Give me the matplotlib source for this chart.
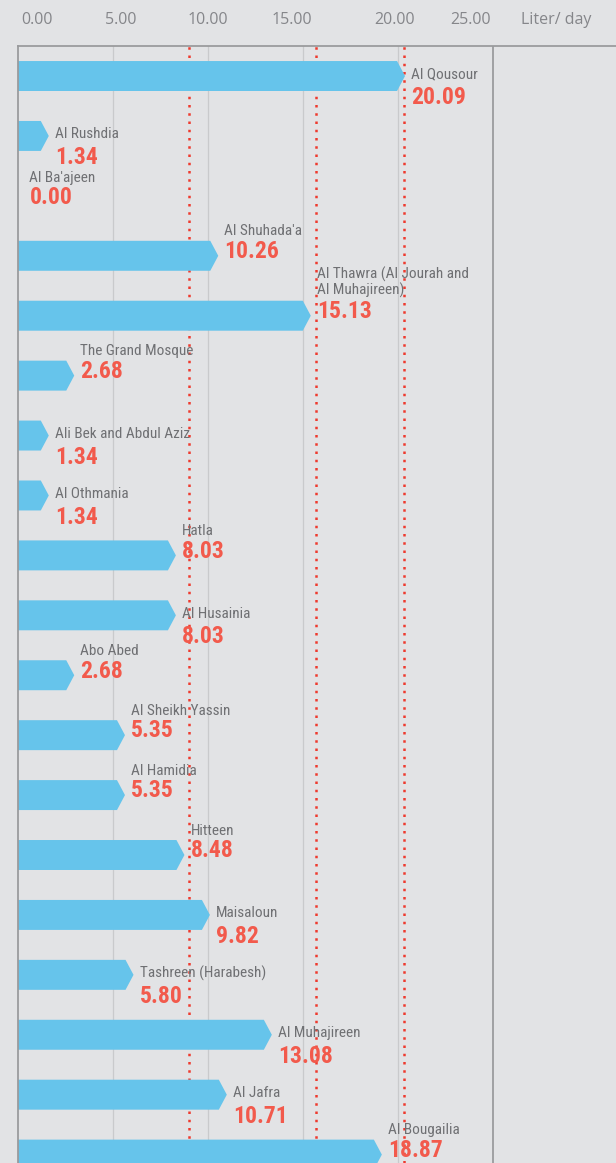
import matplotlib.pyplot as plt
import matplotlib.font_manager as fm
from matplotlib.patches import Polygon

# data
names = ["Al Qousour", "Al Rushdia", "Al Ba'ajeen", "Al Shuhada'a",
         "Al Thawra (Al Jourah and\nAl Muhajireen)", "The Grand Mosque",
         "Ali Bek and Abdul Aziz", "Al Othmania", "Hatla", "Al Husainia",
         "Abo Abed", "Al Sheikh Yassin", "Al Hamidia", "Hitteen", "Maisaloun",
         "Tashreen (Harabesh)", "Al Muhajireen", "Al Jafra", "Al Bougailia"]
values = [20.09, 1.34, 0.00, 10.26, 15.13, 2.68, 1.34, 1.34, 8.03, 8.03,
          2.68, 5.35, 5.35, 8.48, 9.82, 5.80, 13.08, 10.71, 18.87]
ref_lines = [9.0, 15.7, 20.3]
xticks = [0, 5, 10, 15, 20, 25]
xtick_labels = ["0.00", "5.00", "10.00", "15.00", "20.00", "25.00"]
unit = "Liter/ day"

# layout: name above the value (True) or beside the bar (False)
name_above = [False, False, True, True, True, True, False, False, True, False,
              True, True, True, True, False, False, False, False, True]
# tick labels in the original sit a bit off their grid lines
label_pos = [1.0, 5.4, 10.0, 14.4, 19.8, 23.8]
unit_pos = 28.3

bg = "#e2e3e5"
bar_color = "#66c4eb"
red = "#f25a4c"
grey_txt = "#6f7073"

# look for a narrow font, the original uses a condensed face
avail = {f.name for f in fm.fontManager.ttflist}
stretched = {f.name for f in fm.fontManager.ttflist
             if f.stretch in ("condensed", "semi-condensed", 62.5, 75, 87.5)}
narrow = None
stretch = "normal"
for cand in ["Roboto Condensed", "Noto Sans Condensed", "Open Sans Condensed",
             "Liberation Sans Narrow", "Noto Sans SemiCondensed",
             "Open Sans SemiCondensed", "DejaVu Sans Condensed"]:
    if cand in avail:
        narrow = cand
        break
if narrow is None:
    for cand in ["Noto Sans", "DejaVu Sans", "Open Sans", "Roboto"]:
        if cand in stretched:
            narrow, stretch = cand, "condensed"
            break
if narrow is None:
    narrow = "Roboto"
name_font = [narrow, "DejaVu Sans"]

fig = plt.figure(figsize=(6.16, 11.63), dpi=100, facecolor=bg)
ax = fig.add_axes([18 / 616, 0, 1 - 18 / 616, 1 - 45.7 / 1163])
ax.set_facecolor(bg)

xmax = (616 - 18) / 19.0
ax.set_xlim(0, xmax)
ax.set_ylim(18.14, -0.506)

# grid and frame
for g in xticks[1:-1]:
    ax.axvline(g, color="#c9cacc", lw=0.9, zorder=0)
ax.axvline(xticks[-1], color="#9a9b9d", lw=1.3, zorder=0)
for r in ref_lines:
    ax.axvline(r, color="#ee3a2e", lw=1.8, linestyle=(0, (1, 2.3)), zorder=1)

for s in ["right", "bottom"]:
    ax.spines[s].set_visible(False)
for s in ["left", "top"]:
    ax.spines[s].set_color("#9a9b9d")
    ax.spines[s].set_linewidth(1.3)

ax.xaxis.tick_top()
ax.set_xticks(label_pos + [unit_pos])
ax.set_xticklabels(xtick_labels + [unit], family=["Open Sans", "DejaVu Sans"])
ax.tick_params(axis="x", length=0, pad=13, labelsize=11.5, labelcolor="#85868a")
ax.set_yticks([])

h = 0.5
tip = 0.42
for i, (n, v) in enumerate(zip(names, values)):
    if v > 0:
        end = max(v - 0.14, 0.05)
        pts = [(0, i - h / 2), (end, i - h / 2), (end + tip, i),
               (end, i + h / 2), (0, i + h / 2)]
        ax.add_patch(Polygon(pts, closed=True, fc=bar_color, ec="none", zorder=2))
        vy, ny = i - 0.07, i - 0.29
    else:
        # no bar: keep the pair tight so it clears the row above
        vy, ny = i + 0.02, i - 0.18
    tx = v + 0.6
    if name_above[i]:
        ax.text(tx, vy, f"{v:.2f}", ha="left", va="center", fontsize=17,
                fontweight="bold", color=red, family=name_font,
                fontstretch=stretch, zorder=3)
        ax.text(tx, ny, n, ha="left", va="bottom", fontsize=11,
                color=grey_txt, family=name_font, fontstretch=stretch,
                zorder=3, linespacing=1.1)
    else:
        ax.text(tx, i - 0.03, n, ha="left", va="center", fontsize=11,
                color=grey_txt, family=name_font, fontstretch=stretch, zorder=3)
        ax.text(tx, i + 0.36, f"{v:.2f}", ha="left", va="center", fontsize=17,
                fontweight="bold", color=red, family=name_font,
                fontstretch=stretch, zorder=3)

fig.savefig("out.png", dpi=100, facecolor=bg)
